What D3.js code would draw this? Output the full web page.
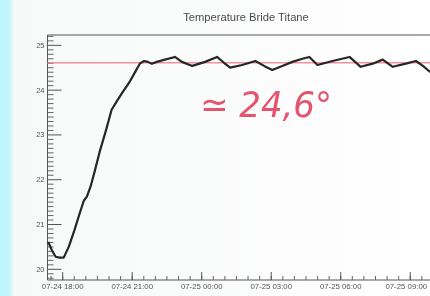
<!DOCTYPE html>
<html>
<head>
<meta charset="utf-8">
<script src="https://cdn.jsdelivr.net/npm/d3@7"></script>
<style>
  html, body { margin: 0; padding: 0; background: #fff; }
  #chart { width: 430px; height: 296px; overflow: hidden; }
  svg { display: block; filter: blur(0.35px); }
</style>
</head>
<body>
<div id="chart"></div>
<script>
const TITLE = 'Temperature Bride Titane';
const NOTE = '≃ 24,6°';
const TARGET = 24.6;

// readings (time, °C)
const times = [
  '07-24 17:24', '07-24 17:33', '07-24 17:43', '07-24 17:53', '07-24 18:04', '07-24 18:17',
  '07-24 18:32', '07-24 18:45', '07-24 18:56', '07-24 19:04', '07-24 19:14', '07-24 19:24',
  '07-24 19:37', '07-24 19:53', '07-24 20:08', '07-24 20:22', '07-24 20:37', '07-24 20:53',
  '07-24 21:08', '07-24 21:21', '07-24 21:32', '07-24 21:42', '07-24 21:52', '07-24 22:05',
  '07-24 22:26', '07-24 22:52', '07-24 23:10', '07-24 23:37', '07-25 00:10', '07-25 00:41',
  '07-25 00:59', '07-25 01:15', '07-25 01:46', '07-25 02:20', '07-25 02:43', '07-25 03:04',
  '07-25 03:30', '07-25 03:56', '07-25 04:22', '07-25 04:40', '07-25 05:01', '07-25 05:40',
  '07-25 06:24', '07-25 06:53', '07-25 07:24', '07-25 07:50', '07-25 08:16', '07-25 08:50',
  '07-25 09:16', '07-25 09:34', '07-25 09:52', '07-25 10:12'
];
const temps = [
  20.60, 20.42, 20.27, 20.25, 20.25, 20.49,
  20.87, 21.23, 21.52, 21.61, 21.85, 22.17,
  22.61, 23.08, 23.55, 23.75, 23.95, 24.15,
  24.38, 24.58, 24.64, 24.62, 24.58, 24.62,
  24.67, 24.73, 24.62, 24.53, 24.62, 24.73,
  24.60, 24.49, 24.55, 24.64, 24.53, 24.44,
  24.53, 24.62, 24.69, 24.73, 24.55, 24.64,
  24.73, 24.51, 24.58, 24.67, 24.51, 24.58,
  24.64, 24.53, 24.40, 24.53
];
const xDomain = ['07-24 17:22', '07-25 11:36'];
const yDomain = [19.75, 25.22];
const yMajor = [20, 21, 22, 23, 24, 25];

const parse = d3.timeParse('%m-%d %H:%M');
const data = times.map((t, i) => ({ t: parse(t), v: temps[i] }));

const W = 430, H = 296, m = { t: 35, r: -40, b: 16, l: 47.5 };
const svg = d3.select('#chart').append('svg').attr('width', W).attr('height', H);

// photo backdrop: cyan strip on the left
const bg = svg.append('defs').append('linearGradient').attr('id', 'strip');
bg.append('stop').attr('offset', '0%').attr('stop-color', '#bdf6fd');
bg.append('stop').attr('offset', '2.3%').attr('stop-color', '#c4f6fb');
bg.append('stop').attr('offset', '3.3%').attr('stop-color', '#f7f8f8');
bg.append('stop').attr('offset', '100%').attr('stop-color', '#ffffff');
svg.append('rect').attr('width', W).attr('height', H).attr('fill', 'url(#strip)');

const x = d3.scaleTime().domain(xDomain.map(parse)).range([m.l, W - m.r]);
const y = d3.scaleLinear().domain(yDomain).range([H - m.b, m.t]);

svg.append('text').attr('x', 246).attr('y', 21).attr('text-anchor', 'middle')
  .attr('font-family', 'Liberation Sans, Arial, sans-serif').attr('font-size', 11.2)
  .attr('fill', '#4a4a4a').text(TITLE);

// frame
const frame = svg.append('g').attr('stroke', '#555').attr('stroke-width', 1).attr('fill', 'none');
frame.append('path').attr('d', `M${W + 5},${m.t}H${m.l}V${H - m.b}H${W + 5}`);

// y axis: minor every 0.1, major on integers
const yMinor = d3.range(198, 253).map(d => d / 10).filter(d => !yMajor.includes(d));
svg.append('g').attr('transform', `translate(${m.l},0)`)
  .call(d3.axisLeft(y).tickValues(yMinor).tickSize(-6).tickFormat(''))
  .call(g => g.select('.domain').remove())
  .call(g => g.selectAll('line').attr('stroke', '#666'));
svg.append('g').attr('transform', `translate(${m.l},0)`)
  .call(d3.axisLeft(y).tickValues(yMajor).tickSize(-14).tickPadding(3).tickFormat(d3.format('d')))
  .call(g => g.select('.domain').remove())
  .call(g => g.selectAll('line').attr('stroke', '#555'))
  .call(g => g.selectAll('text').attr('font-size', 7.5).attr('fill', '#555')
    .attr('font-family', 'Liberation Sans, Arial, sans-serif'));

// x axis: minor every 30 min, major every 3 h
svg.append('g').attr('transform', `translate(0,${H - m.b})`)
  .call(d3.axisBottom(x).ticks(d3.timeMinute.every(30)).tickSize(-4).tickFormat(''))
  .call(g => g.select('.domain').remove())
  .call(g => g.selectAll('line').attr('stroke', '#666'));
svg.append('g').attr('transform', `translate(0,${H - m.b})`)
  .call(d3.axisBottom(x).ticks(d3.timeHour.every(3)).tickSize(-8).tickPadding(3)
    .tickFormat(d3.timeFormat('%m-%d %H:%M')))
  .call(g => g.select('.domain').remove())
  .call(g => g.selectAll('line').attr('stroke', '#555'))
  .call(g => g.selectAll('text').attr('font-size', 7.8).attr('fill', '#555')
    .attr('font-family', 'Liberation Sans, Arial, sans-serif')
    .attr('dx', (d, i, n) => i === n.length - 1 ? -4 : 0));

// target line
svg.append('line').attr('x1', m.l).attr('x2', W + 5).attr('y1', y(TARGET)).attr('y2', y(TARGET))
  .attr('stroke', '#f07f93').attr('stroke-width', 1.6).attr('opacity', 0.85);

// temperature curve
svg.append('path').datum(data)
  .attr('d', d3.line().x(d => x(d.t)).y(d => y(d.v)))
  .attr('fill', 'none').attr('stroke', '#262626').attr('stroke-width', 2.2)
  .attr('stroke-linejoin', 'round');

// handwritten note
svg.append('text').attr('x', 200).attr('y', 117)
  .attr('font-family', 'DejaVu Sans, sans-serif').attr('font-weight', 200)
  .attr('font-size', 36).attr('fill', '#e6536e').attr('font-style', 'italic')
  .attr('textLength', 132).attr('lengthAdjust', 'spacingAndGlyphs')
  .text(NOTE);
</script>
</body>
</html>
